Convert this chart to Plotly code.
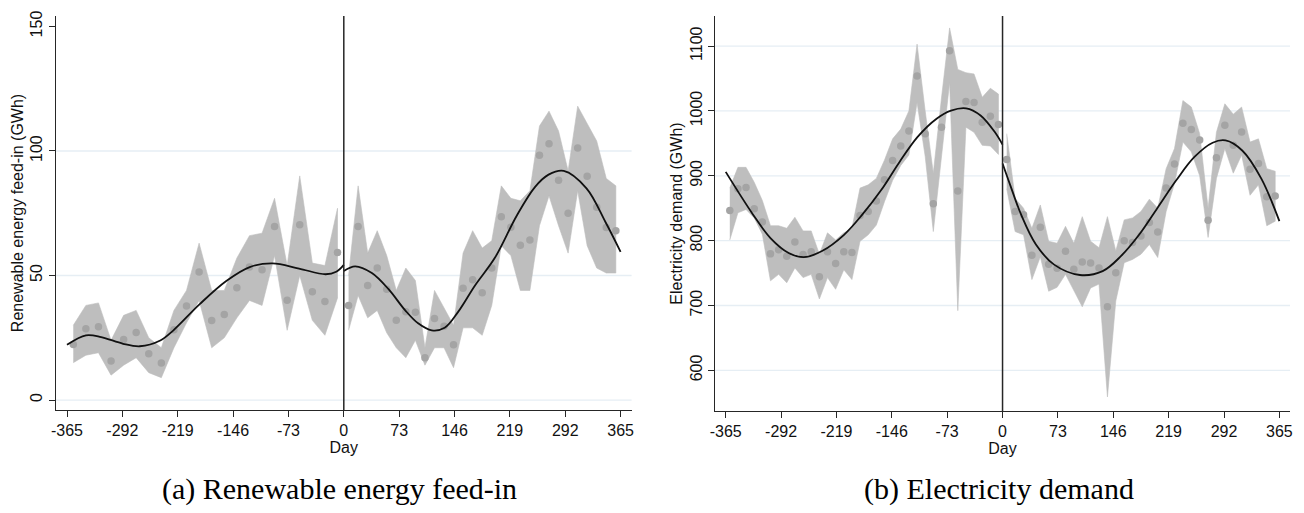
import plotly.graph_objects as go

# ---------------- Panel (a): renewable energy feed-in (GWh) ----------------
A_DAYS_PRE = [-356.7, -340.1, -323.5, -306.9, -290.3, -273.8, -257.2, -240.6, -224.0, -207.4, -190.8,
              -174.2, -157.6, -141.0, -124.4, -107.8, -91.3, -74.7, -58.1, -41.5, -24.9, -8.3]
A_MEAN_PRE = [22.3, 28.6, 29.4, 15.7, 24.3, 27.1, 18.6, 14.9, 28.2, 37.8, 51.4,
              31.9, 34.3, 45.1, 53.4, 52.3, 69.7, 40.1, 70.4, 43.5, 39.6, 59.2]
A_UPPER_PRE = [30, 38, 39, 24, 34, 36, 25, 21, 36, 44, 63, 44, 44, 57, 66, 67, 81, 54, 90, 55, 54, 77]
A_LOWER_PRE = [15, 18, 19, 10, 14, 17, 11, 9, 21, 31, 40, 21, 25, 33, 40, 38, 58, 28, 50, 32, 26, 41]

A_DAYS_POST = [6.3, 18.9, 31.5, 44.1, 56.6, 69.2, 81.8, 94.4, 107.0, 119.6, 132.2, 144.7, 157.3, 169.9,
               182.5, 195.1, 207.7, 220.3, 232.8, 245.4, 258.0, 270.6, 283.2, 295.8, 308.4, 320.9,
               333.5, 346.1, 358.7]
A_MEAN_POST = [38.0, 69.7, 46.0, 53.0, 44.5, 32.0, 35.5, 35.3, 17.0, 32.7, 29.6, 22.2, 44.9, 48.3,
               43.1, 53.0, 73.6, 69.4, 62.2, 64.3, 98.3, 102.9, 88.3, 75.0, 101.2, 89.9, 77.4, 69.3, 68.0]
A_UPPER_POST = [50, 86, 59, 68, 58, 44, 53, 48, 21, 44, 37, 30, 59, 68, 61, 64, 86, 81, 80, 84,
                110, 116, 108, 92, 118, 111, 104, 89, 86]
A_LOWER_POST = [28, 42, 33, 36, 27, 21, 17, 24, 14, 21, 21, 13, 29, 29, 26, 38, 62, 58, 44, 44,
                70, 82, 70, 59, 84, 62, 53, 51, 51]

A_FIT_PRE_DAYS = [-365, -340, -320, -291, -269, -242, -225, -190, -155, -124, -94, -59, -24, -10, 0]
A_FIT_PRE_VALS = [22.2, 26.0, 25.3, 22.6, 21.6, 23.9, 27.9, 38.5, 47.8, 53.4, 54.9, 52.8, 50.5, 51.5, 54.3]
A_FIT_POST_DAYS = [0, 15, 37, 59, 81, 98, 116, 133, 151, 173, 199, 228, 252, 270, 290, 320, 345, 365]
A_FIT_POST_VALS = [51.8, 53.7, 51.0, 44.5, 36.0, 30.8, 28.0, 29.0, 35.5, 46.0, 57.0, 74.0, 85.5, 90.5,
                   92.0, 85.0, 71.5, 59.5]

# ---------------- Panel (b): electricity demand (GWh) ----------------
B_DAYS_PRE = [-359.6, -348.9, -338.2, -327.4, -316.7, -306.0, -295.2, -284.5, -273.8, -263.0, -252.3,
              -241.5, -230.8, -220.1, -209.3, -198.6, -187.9, -177.1, -166.4, -155.7, -144.9, -134.2,
              -123.5, -112.7, -102.0, -91.3, -80.5, -69.8, -59.0, -48.3, -37.6, -26.8, -16.1, -5.4]
B_MEAN_PRE = [846.5, 880, 882, 849, 828.6, 779.6, 786, 776, 798, 778.7, 782.8, 744.4, 782.8, 764.9,
              782.8, 781.7, 838.8, 845, 861, 894, 923.5, 946, 969, 1054, 965, 857, 975, 1093, 876.5,
              1014.5, 1013, 982.5, 992, 979]
B_UPPER_PRE = [881, 913, 913, 890, 862, 823, 823, 819, 836, 815, 815, 779, 812, 801, 812, 819, 881,
               886, 896, 924, 957, 972, 1000, 1103, 1000, 904, 1020, 1128, 1064, 1059, 1057, 1021,
               1035, 1026]
B_LOWER_PRE = [801, 843, 848, 835, 810, 738, 748, 735, 758, 743, 748, 710, 743, 725, 755, 740, 799,
               809, 824, 860, 893, 916, 932, 1013, 930, 814, 930, 1044, 692, 975, 967, 947, 946, 933]

B_DAYS_POST = [5.5, 16.6, 27.7, 38.7, 49.8, 60.8, 71.9, 83.0, 94.0, 105.1, 116.1, 127.2, 138.3,
               149.3, 160.4, 171.4, 182.5, 193.6, 204.6, 215.7, 226.7, 237.8, 248.9, 259.9, 271.0,
               282.0, 293.1, 304.2, 315.2, 326.3, 337.4, 348.4, 359.5]
B_MEAN_POST = [925, 845, 840, 777.6, 820.5, 763.5, 757.3, 783.8, 756, 767, 765.5, 758, 698, 750.5,
               800, 797, 807, 828, 813.3, 881, 918, 981, 971.5, 955, 831.5, 928, 978, 947, 967.5,
               910, 919, 867.5, 869]
B_UPPER_POST = [965, 865, 850, 819, 855, 799, 796, 822, 796, 837, 799, 789, 837, 784, 832, 835, 845,
                864, 850, 911, 942, 1016, 1006, 965, 850, 967, 1011, 995, 1006, 952, 957, 911, 907]
B_LOWER_POST = [880, 814, 809, 740, 775, 722, 728, 748, 722, 698, 727, 733, 559, 707, 766, 771, 779,
                794, 774, 845, 888, 952, 937, 900, 805, 896, 942, 904, 932, 870, 886, 823, 830]

B_FIT_PRE_DAYS = [-365, -330, -306, -282, -262, -238, -209, -185, -160, -136, -112, -87, -68, -48, -29, -10, 0]
B_FIT_PRE_VALS = [906, 842, 804, 781, 774.5, 784, 809, 840, 878, 921, 960, 988, 1000.5, 1004, 993, 967, 948]
B_FIT_POST_DAYS = [0, 10, 24.5, 44, 68, 102, 132, 156, 180, 204, 229, 253, 277, 294, 316, 341, 365]
B_FIT_POST_VALS = [919, 886, 840, 794, 763, 747, 753, 776, 809, 850, 893, 929, 951, 954.5, 939, 896, 830]

# ---------------- Axes / labels ----------------
X_TICKS = [-365, -292, -219, -146, -73, 0, 73, 146, 219, 292, 365]
X_TICK_LABELS = ["-365", "-292", "-219", "-146", "-73", "0", "73", "146", "219", "292", "365"]
A_Y_TICKS = [0, 50, 100, 150]
A_GRID = [0, 50, 100]
B_Y_TICKS = [600, 700, 800, 900, 1000, 1100]
CUTOFF = 0
X_TITLE = "Day"
A_Y_TITLE = "Renewable energy feed-in (GWh)"
B_Y_TITLE = "Electricity demand (GWh)"
A_CAPTION = "(a) Renewable energy feed-in"
B_CAPTION = "(b) Electricity demand"

BAND = "rgb(190,190,190)"
DOT = "rgb(164,164,164)"
AXIS = "#262626"
GRID = "#e6eef4"
SANS = "Liberation Sans, Arial, sans-serif"
SERIF = "Liberation Serif, Times New Roman, serif"

fig = go.Figure()


def add_side(days, mean, upper, lower, fit_d, fit_v, xa, ya):
    fig.add_trace(go.Scatter(
        x=list(days) + list(days)[::-1], y=list(upper) + list(lower)[::-1],
        fill="toself", fillcolor=BAND, mode="lines", line=dict(color=BAND, width=0.6),
        hoverinfo="skip", showlegend=False, xaxis=xa, yaxis=ya))
    fig.add_trace(go.Scatter(
        x=days, y=mean, mode="markers", marker=dict(color=DOT, size=7.5),
        showlegend=False, xaxis=xa, yaxis=ya))
    fig.add_trace(go.Scatter(
        x=fit_d, y=fit_v, mode="lines", line=dict(color="#111111", width=1.8, shape="spline", smoothing=1.0),
        showlegend=False, xaxis=xa, yaxis=ya))


add_side(A_DAYS_PRE, A_MEAN_PRE, A_UPPER_PRE, A_LOWER_PRE, A_FIT_PRE_DAYS, A_FIT_PRE_VALS, "x", "y")
add_side(A_DAYS_POST, A_MEAN_POST, A_UPPER_POST, A_LOWER_POST, A_FIT_POST_DAYS, A_FIT_POST_VALS, "x", "y")
add_side(B_DAYS_PRE, B_MEAN_PRE, B_UPPER_PRE, B_LOWER_PRE, B_FIT_PRE_DAYS, B_FIT_PRE_VALS, "x2", "y2")
add_side(B_DAYS_POST, B_MEAN_POST, B_UPPER_POST, B_LOWER_POST, B_FIT_POST_DAYS, B_FIT_POST_VALS, "x2", "y2")

shapes = []
for v in A_GRID:
    shapes.append(dict(type="line", xref="x domain", yref="y", x0=0, x1=1, y0=v, y1=v,
                       line=dict(color=GRID, width=1.3), layer="below"))
for v in B_Y_TICKS:
    shapes.append(dict(type="line", xref="x2 domain", yref="y2", x0=0, x1=1, y0=v, y1=v,
                       line=dict(color=GRID, width=1.3), layer="below"))
shapes.append(dict(type="line", xref="x", yref="y domain", x0=CUTOFF, x1=CUTOFF, y0=0, y1=1,
                   line=dict(color=AXIS, width=1.5), layer="above"))
shapes.append(dict(type="line", xref="x2", yref="y2 domain", x0=CUTOFF, x1=CUTOFF, y0=0, y1=1,
                   line=dict(color=AXIS, width=1.5), layer="above"))

xcommon = dict(tickvals=X_TICKS, ticktext=X_TICK_LABELS, ticks="outside", ticklen=6, tickwidth=1,
               tickcolor=AXIS, showline=True, linecolor=AXIS, linewidth=1.3, showgrid=False,
               zeroline=False, tickfont=dict(family=SANS, size=16, color="#111"),
               title=dict(text=X_TITLE, font=dict(family=SANS, size=16, color="#111"), standoff=2))
ycommon = dict(ticks="outside", ticklen=6, tickwidth=1, tickcolor=AXIS, tickangle=-90,
               showline=True, linecolor=AXIS, linewidth=1.3, showgrid=False, zeroline=False,
               tickfont=dict(family=SANS, size=16, color="#111"))

fig.update_layout(
    width=1304, height=513,
    margin=dict(l=56, r=11, t=13, b=102),
    paper_bgcolor="white", plot_bgcolor="white",
    xaxis=dict(domain=[0, 0.46645], range=[-379.5, 379.5], anchor="y", **xcommon),
    yaxis=dict(domain=[0.0025, 1], range=[-4.0, 154.2], tickvals=A_Y_TICKS, anchor="x",
               title=dict(text=A_Y_TITLE, font=dict(family=SANS, size=16, color="#111"), standoff=0),
               **ycommon),
    xaxis2=dict(domain=[0.53411, 1], range=[-379, 379], anchor="y2", **xcommon),
    yaxis2=dict(domain=[0, 1], range=[537.3, 1146.4], tickvals=B_Y_TICKS, anchor="x2",
                title=dict(text=B_Y_TITLE, font=dict(family=SANS, size=16, color="#111"), standoff=0),
                **ycommon),
    shapes=shapes,
    annotations=[
        dict(text=A_CAPTION, xref="paper", yref="paper", x=0.2296, y=-0.1985, showarrow=False,
             xanchor="center", yanchor="middle", font=dict(family=SERIF, size=30, color="#000")),
        dict(text=B_CAPTION, xref="paper", yref="paper", x=0.7639, y=-0.1985, showarrow=False,
             xanchor="center", yanchor="middle", font=dict(family=SERIF, size=30, color="#000")),
    ],
)

fig.write_html("out.html")
